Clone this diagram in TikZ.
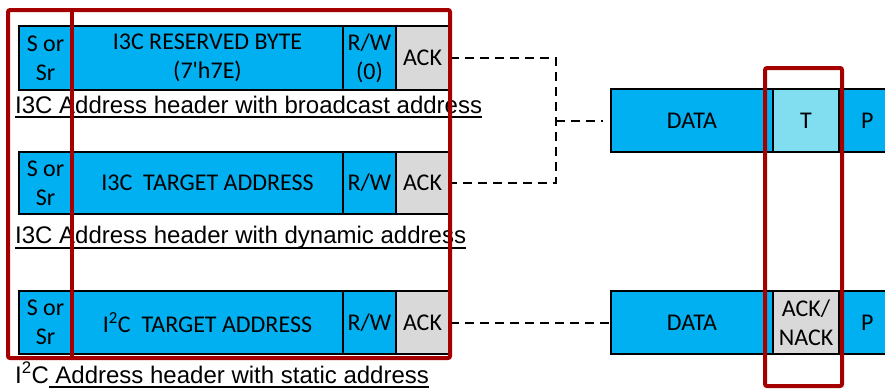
\documentclass[tikz,border=0pt]{standalone}
\usepackage{fontspec}
\setmainfont{Carlito}
\newfontfamily\capfont{Liberation Sans}
\definecolor{busblue}{RGB}{0,176,240}
\definecolor{ackgray}{RGB}{217,217,217}
\definecolor{tcyan}{RGB}{128,222,240}
\definecolor{markred}{RGB}{165,0,0}
\begin{document}
\begin{tikzpicture}[x=1pt,y=-1pt,
  field/.style={draw=black, line width=2pt, inner sep=0pt, anchor=north west,
    align=center, font=\fontsize{24}{29}\selectfont},
  blue/.style={field, fill=busblue},
  gray/.style={field, fill=ackgray},
  caption/.style={inner sep=0pt, anchor=base west, font=\capfont\fontsize{24}{28}\selectfont},
  uline/.style={line width=1.3pt},
  link/.style={line width=2pt, dash pattern=on 9pt off 6pt},
  redmark/.style={draw=markred, line width=4pt}]
\useasboundingbox (0,0) rectangle (885,389);
\clip (0,0) rectangle (885,389);

% broadcast address header
\node[blue, minimum width=53pt, minimum height=64pt] (s1) at (18,25) {S or\\Sr};
\node[blue, minimum width=271pt, minimum height=64pt] (b1) at (71,25) {I3C RESERVED BYTE\\(7\textquotesingle h7E)};
\node[blue, minimum width=53pt, minimum height=64pt] (rw1) at (342,25) {R/W\\(0)};
\node[gray, minimum width=53pt, minimum height=64pt] (ack1) at (395,25) {ACK};

% dynamic address header
\node[blue, minimum width=53pt, minimum height=62pt] (s2) at (18,151) {S or\\Sr};
\node[blue, minimum width=271pt, minimum height=62pt] (b2) at (71,151) {I3C\ \ TARGET ADDRESS};
\node[blue, minimum width=53pt, minimum height=62pt] (rw2) at (342,151) {R/W};
\node[gray, minimum width=53pt, minimum height=62pt] (ack2) at (395,151) {ACK};

% static address header
\node[blue, minimum width=53pt, minimum height=63pt] (s3) at (18,290) {S or\\Sr};
\node[blue, minimum width=271pt, minimum height=63pt] (b3) at (71,290) {I\textsuperscript{2}C\ \ TARGET ADDRESS};
\node[blue, minimum width=53pt, minimum height=63pt] (rw3) at (342,290) {R/W};
\node[gray, minimum width=53pt, minimum height=63pt] (ack3) at (395,290) {ACK};

% data phases
\node[blue, minimum width=162pt, minimum height=63pt] (d1) at (610,88) {DATA};
\node[field, fill=tcyan, minimum width=66pt, minimum height=63pt] (t1) at (772,88) {T};
\node[blue, minimum width=60pt, minimum height=63pt, text width=52pt, align=left] (p1) at (838,88) {\hspace*{18pt}P};

\node[blue, minimum width=162pt, minimum height=63pt] (d3) at (610,290) {DATA};
\node[gray, minimum width=66pt, minimum height=63pt] (an3) at (772,290) {ACK/\\NACK};
\node[blue, minimum width=60pt, minimum height=63pt, text width=52pt, align=left] (p3) at (838,290) {\hspace*{18pt}P};

% captions
\node[caption] (c1) at (15,113) {I3C Address header with broadcast address};
\draw[uline] ([yshift=-4pt]c1.base west) -- ([yshift=-4pt]c1.base east);
\node[caption] (c2) at (15,243) {I3C Address header with dynamic address};
\draw[uline] ([yshift=-5pt]c2.base west) -- ([yshift=-5pt]c2.base east);
\node[caption] (c3a) at (15,383) {I\textsuperscript{2}C};
\node[caption, anchor=base west] (c3) at ([xshift=6pt]c3a.base east) {Address header with static address};
\draw[uline] ([yshift=-4pt]c3a.base east) -- ([yshift=-4pt]c3.base east);

% connectors
\path (d1.west) ++(-54,0) coordinate (jn);
\draw[link] (ack1.east) -| (jn) |- (ack2.east);
\draw[link] (jn) -- ([xshift=-7pt]d1.west);
\draw[link] (ack3.east) -- (d3.west);

% highlight frames
\draw[redmark, rounded corners=2pt] (8,10) rectangle (450,358);
\draw[redmark] (72,10) -- (72,358);
\draw[redmark, rounded corners=2pt] (765,68) rectangle (842,386);
\end{tikzpicture}
\end{document}
